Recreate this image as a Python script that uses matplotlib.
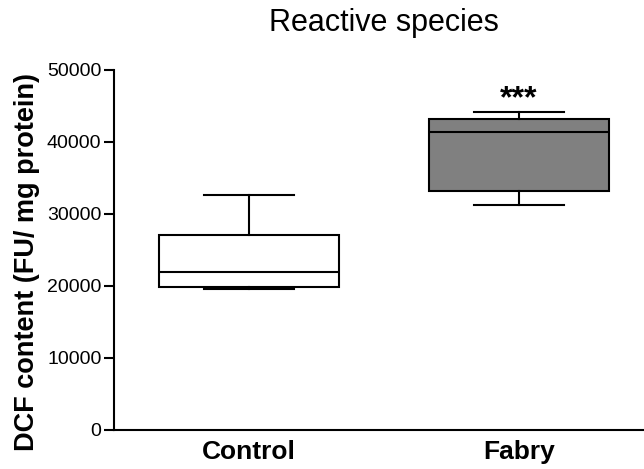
import matplotlib.pyplot as plt

plt.rcParams['font.family'] = ['Liberation Sans', 'DejaVu Sans']

# Box summary values (DCF content, FU/mg protein)
groups = ['Control', 'Fabry']
whisker_low = [19600, 31250]
q1 = [19860, 33200]
medians = [21900, 41400]
q3 = [27100, 43200]
whisker_high = [32600, 44200]
box_colors = ['white', '#808080']

stats = []
for i, name in enumerate(groups):
    stats.append({'label': name, 'whislo': whisker_low[i], 'q1': q1[i],
                  'med': medians[i], 'q3': q3[i], 'whishi': whisker_high[i]})

fig = plt.figure(figsize=(6.44, 4.69), dpi=100)
ax = fig.add_axes([0.177, 0.0832, 0.823, 0.7676])

lw = 1.5
bp = ax.bxp(stats, positions=[1, 2], widths=0.67, patch_artist=True,
            showfliers=False,
            boxprops=dict(linewidth=lw, edgecolor='black'),
            medianprops=dict(linewidth=lw, color='black'),
            whiskerprops=dict(linewidth=lw, color='black'),
            capprops=dict(linewidth=lw, color='black'),
            capwidths=0.333)
for patch, c in zip(bp['boxes'], box_colors):
    patch.set_facecolor(c)

ax.set_xlim(0.5, 2.463)
ax.set_ylim(0, 50000)
ax.set_yticks([0, 10000, 20000, 30000, 40000, 50000])
ax.tick_params(axis='y', labelsize=14, width=1.5, length=7, pad=2,
               direction='out')
ax.tick_params(axis='x', length=0, labelsize=19, pad=7)
for lab in ax.get_xticklabels():
    lab.set_fontweight('bold')

ax.spines['top'].set_visible(False)
ax.spines['right'].set_visible(False)
ax.spines['left'].set_linewidth(1.5)
ax.spines['bottom'].set_linewidth(1.5)

ax.set_ylabel('DCF content (FU/ mg protein)', fontsize=19.5, fontweight='bold')
ax.yaxis.set_label_coords(-0.14, 0.467)
ax.set_title('Reactive species', fontsize=22, pad=28, x=0.51)

# significance marker above the Fabry box
ax.text(2, whisker_high[1] + 600, '***', ha='center', va='baseline',
        fontsize=23, fontweight='bold')

fig.savefig('out.png', dpi=100)
